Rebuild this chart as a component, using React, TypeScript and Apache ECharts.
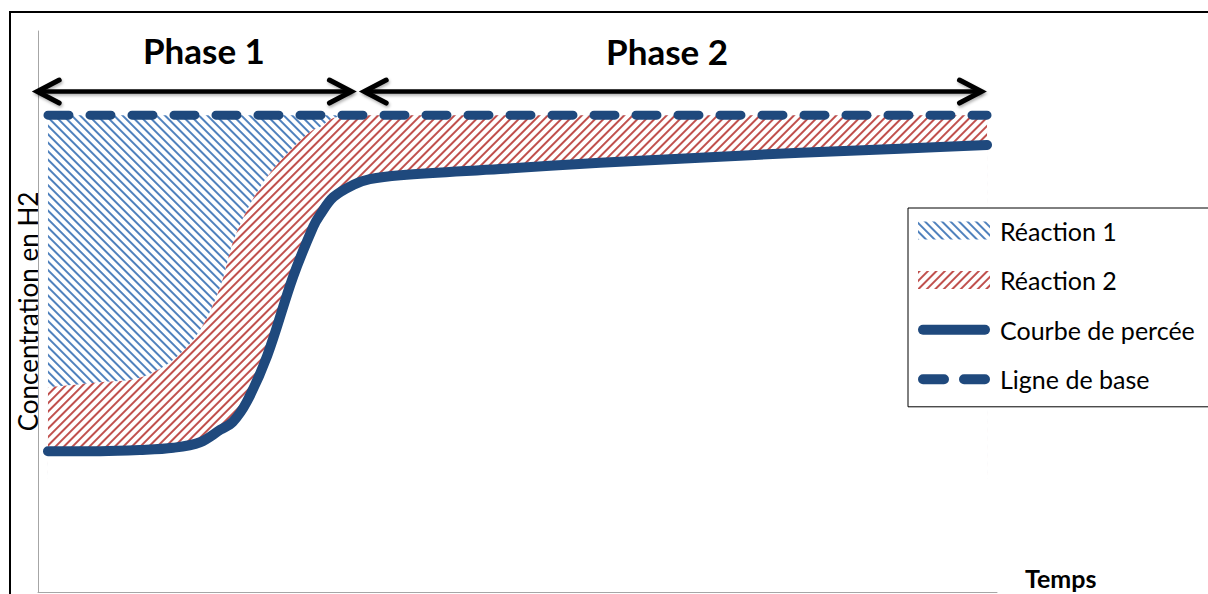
import React, { useEffect, useRef } from "react";
import * as echarts from "echarts";

// ---- Data (x: time 0–100, y: concentration 0–100) ----
const timeX = [1.04, 6.5, 10.6, 14.1, 16.9, 19.0, 20.3, 21.8, 23.9, 26.6, 28.7, 29.4, 30.8, 32.9, 34.6, 37.8, 48.2, 58.6, 69.0, 79.5, 89.9, 98.96];
const courbePercee = [25.1, 25.1, 25.3, 25.7, 26.7, 28.9, 30.3, 34.0, 42.1, 56.2, 65.1, 67.2, 70.4, 72.6, 73.6, 74.3, 75.4, 76.5, 77.4, 78.3, 79.0, 79.7];
const limiteReactions = [36.5, 37.4, 38.2, 41.4, 46.7, 54.4, 62.2, 68.1, 74.0, 79.3, 82.4, 82.9, 84.5, 85, 85, 85, 85, 85, 85, 85, 85, 85];
const ligneBaseX = [1.04, 98.96];
const ligneBaseY = [85, 85];
const hatchFloor = 20;
const maskFloor = 10;

const phaseNames = ["Phase 1", "Phase 2"];
const phaseStart = [-0.5, 33.6];
const phaseEnd = [33.1, 98.8];
const phaseArrowY = [89.2, 89.2];
const phaseLabelX = [17.3, 65.6];
const phaseLabelY = [96.6, 96.4];

const legendNames = ["Réaction 1", "Réaction 2", "Courbe de percée", "Ligne de base"];

const DARK_BLUE = "#1f497d";
const HATCH_BLUE = "#4f81bd";
const HATCH_RED = "#c0504d";

const blueDecal = {
  symbol: "rect",
  symbolSize: 1,
  dashArrayX: [1, 0],
  dashArrayY: [2, 4],
  rotation: Math.PI / 4,
  color: HATCH_BLUE,
  backgroundColor: "rgba(255,255,255,0)",
};
const redDecal = {
  symbol: "rect",
  symbolSize: 1,
  dashArrayX: [1, 0],
  dashArrayY: [2, 4],
  rotation: -Math.PI / 4,
  color: HATCH_RED,
  backgroundColor: "rgba(255,255,255,0)",
};

const SOLID_ICON = "path://M5,0 L67,0 A5,5 0 0 1 67,10 L5,10 A5,5 0 0 1 5,0 Z";
const DASH_ICON =
  "path://M5,0 L26,0 A5,5 0 0 1 26,10 L5,10 A5,5 0 0 1 5,0 Z M46,0 L67,0 A5,5 0 0 1 67,10 L46,10 A5,5 0 0 1 46,0 Z";

function buildOption() {
  const curveData = timeX.map((x, i) => [x, courbePercee[i]]);
  const reactionData = timeX.map((x, i) => [x, limiteReactions[i]]);
  const baseLineData = ligneBaseX.map((x, i) => [x, ligneBaseY[i]]);
  const smooth = 0.35;

  return {
    animation: false,
    backgroundColor: "#ffffff",
    grid: { left: 38, right: 211, top: 31, bottom: 2, outerBoundsMode: "none" },
    xAxis: {
      type: "value",
      min: 0,
      max: 100,
      axisLine: { show: true, lineStyle: { color: "#a6a6a6", width: 1 } },
      axisTick: { show: false },
      axisLabel: { show: false },
      splitLine: { show: false },
    },
    yAxis: {
      type: "value",
      min: 0,
      max: 100,
      axisLine: { show: true, lineStyle: { color: "#a6a6a6", width: 1 } },
      axisTick: { show: false },
      axisLabel: { show: false },
      splitLine: { show: false },
      name: "Concentration en H2",
      nameLocation: "middle",
      nameRotate: 90,
      nameGap: -3,
      nameTextStyle: { fontFamily: "Lato", fontSize: 26, color: "#000" },
    },
    legend: {
      orient: "vertical",
      left: 908,
      top: 208,
      padding: [10, 30, 15, 10],
      itemWidth: 72,
      itemHeight: 18,
      itemGap: 24.6,
      borderColor: "#000",
      borderWidth: 1,
      backgroundColor: "#fff",
      selectedMode: false,
      textStyle: { fontFamily: "Lato", fontSize: 25, color: "#000", padding: [0, 0, 0, 5] },
      data: [
        { name: legendNames[0], icon: "rect", itemStyle: { color: "#fff", borderWidth: 0, decal: blueDecal } },
        { name: legendNames[1], icon: "rect", itemStyle: { color: "#fff", borderWidth: 0, decal: redDecal } },
        { name: legendNames[2], icon: SOLID_ICON, itemStyle: { color: DARK_BLUE, borderWidth: 0, decal: "none" } },
        { name: legendNames[3], icon: DASH_ICON, itemStyle: { color: DARK_BLUE, borderWidth: 0, decal: "none" } },
      ],
    },
    series: [
      {
        // Réaction 1: hatched zone below the baseline (covered lower down by Réaction 2)
        name: legendNames[0],
        type: "line",
        data: baseLineData,
        symbol: "none",
        silent: true,
        color: "#ffffff",
        lineStyle: { width: 0, opacity: 0 },
        areaStyle: { color: "#ffffff", opacity: 1, origin: hatchFloor },
        itemStyle: { color: "#ffffff", decal: blueDecal },
        z: 1,
      },
      {
        // Réaction 2: hatched zone below the reaction limit (covered lower down by the curve)
        name: legendNames[1],
        type: "line",
        data: reactionData,
        symbol: "none",
        smooth,
        silent: true,
        color: "#ffffff",
        lineStyle: { width: 0, opacity: 0 },
        areaStyle: { color: "#ffffff", opacity: 1, origin: hatchFloor },
        itemStyle: { color: "#ffffff", decal: redDecal },
        z: 2,
      },
      {
        name: legendNames[2],
        type: "line",
        data: curveData,
        symbol: "none",
        smooth,
        silent: true,
        color: DARK_BLUE,
        lineStyle: { color: DARK_BLUE, width: 10, cap: "round", join: "round" },
        areaStyle: { color: "#ffffff", opacity: 1, origin: maskFloor },
        z: 3,
      },
      {
        name: legendNames[3],
        type: "line",
        data: baseLineData,
        symbol: "none",
        silent: true,
        color: DARK_BLUE,
        lineStyle: { color: DARK_BLUE, width: 9, type: [21, 21], cap: "round" },
        z: 4,
      },
    ],
  };
}

export default function App() {
  const ref = useRef<HTMLDivElement>(null);

  useEffect(() => {
    const el = ref.current;
    if (!el) return;
    const chart = echarts.init(el, null, { renderer: "svg", width: 1208, height: 594 });
    chart.setOption(buildOption() as any);

    const px = (x: number, y: number) => chart.convertToPixel({ gridIndex: 0 }, [x, y]) as number[];
    const shadow = {
      shadowBlur: 3,
      shadowColor: "rgba(0,0,0,0.3)",
      shadowOffsetX: 1,
      shadowOffsetY: 2,
    };
    const graphics: any[] = [
      {
        type: "rect",
        silent: true,
        shape: { x: 10, y: 12, width: 1400, height: 800 },
        style: { fill: "none", stroke: "#000", lineWidth: 2 },
        z: 100,
      },
      {
        type: "text",
        silent: true,
        x: 1025,
        y: 578,
        style: {
          text: "Temps",
          fill: "#000",
          font: "bold 25px Lato",
          align: "left",
          verticalAlign: "middle",
        },
        z: 100,
      },
    ];
    const inset = 4;
    const depth = 22;
    const half = 11.5;
    const lw = 4.5;
    phaseNames.forEach((name, i) => {
      const a = px(phaseStart[i], phaseArrowY[i]);
      const b = px(phaseEnd[i], phaseArrowY[i]);
      const lx = a[0] + inset;
      const rx = b[0] - inset;
      const y = a[1];
      graphics.push({
        type: "rect",
        silent: true,
        shape: { x: lx, y: y - lw / 2, width: rx - lx, height: lw },
        style: { fill: "#000", ...shadow },
        z: 100,
      });
      graphics.push({
        type: "polyline",
        silent: true,
        shape: { points: [[lx + depth, y - half], [lx, y], [lx + depth, y + half]] },
        style: { stroke: "#000", fill: "none", lineWidth: 5, lineCap: "round", lineJoin: "miter", ...shadow },
        z: 100,
      });
      graphics.push({
        type: "polyline",
        silent: true,
        shape: { points: [[rx - depth, y - half], [rx, y], [rx - depth, y + half]] },
        style: { stroke: "#000", fill: "none", lineWidth: 5, lineCap: "round", lineJoin: "miter", ...shadow },
        z: 100,
      });
      const t = px(phaseLabelX[i], phaseLabelY[i]);
      graphics.push({
        type: "text",
        silent: true,
        x: t[0],
        y: t[1],
        style: {
          text: name,
          fill: "#000",
          font: "bold 35px Lato",
          align: "center",
          verticalAlign: "middle",
        },
        z: 100,
      });
    });
    chart.setOption({ graphic: graphics });

    return () => {
      chart.dispose();
    };
  }, []);

  return (
    <div
      ref={ref}
      style={{ position: "absolute", left: 0, top: 0, width: 1208, height: 594, background: "#fff" }}
    />
  );
}
